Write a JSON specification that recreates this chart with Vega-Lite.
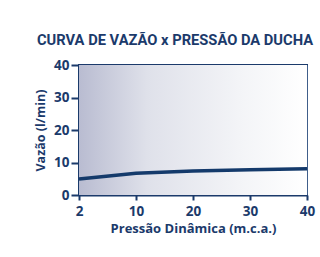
{
  "$schema": "https://vega.github.io/schema/vega-lite/v6.json",
  "width": 228,
  "height": 130,
  "autosize": "none",
  "padding": {"left": 79, "top": 65, "right": 13, "bottom": 62},
  "background": "white",
  "title": {
    "text": "CURVA DE VAZÃO x PRESSÃO DA DUCHA",
    "anchor": "start",
    "frame": "group",
    "dx": -42,
    "offset": 10,
    "font": "Roboto",
    "fontSize": 14.7,
    "fontWeight": "bold",
    "color": "#1b3a6b"
  },
  "config": {
    "view": {"stroke": "#1b3a6b", "strokeWidth": 2},
    "axis": {
      "labelFont": "Open Sans",
      "labelFontWeight": "bold",
      "labelFontSize": 13.5,
      "labelColor": "#1b3a6b",
      "titleFont": "Open Sans",
      "titleFontWeight": "bold",
      "titleFontSize": 13,
      "titleColor": "#1b3a6b",
      "domainColor": "#1b3a6b",
      "domainWidth": 2,
      "tickColor": "#1b3a6b",
      "tickWidth": 2,
      "gridColor": "#3f5e8a",
      "gridWidth": 1,
      "gridOpacity": 1
    }
  },
  "layer": [
    {
      "data": {"values": [{"bg": 1}]},
      "mark": {
        "type": "rect",
        "color": {
          "gradient": "linear",
          "x1": 0, "y1": 0, "x2": 1, "y2": 0,
          "stops": [
            {"offset": 0, "color": "#b9bcd1"},
            {"offset": 0.3, "color": "#dfe1ea"},
            {"offset": 0.7, "color": "#f3f4f7"},
            {"offset": 1, "color": "#ffffff"}
          ]
        }
      },
      "encoding": {}
    },
    {
      "data": {
        "values": [
          {"pressao": 2, "vazao": 4.9},
          {"pressao": 10, "vazao": 6.7},
          {"pressao": 20, "vazao": 7.4},
          {"pressao": 30, "vazao": 7.8},
          {"pressao": 40, "vazao": 8.1}
        ]
      },
      "mark": {"type": "line", "color": "#143a6b", "strokeWidth": 3.5},
      "encoding": {
        "x": {
          "field": "pressao",
          "type": "ordinal",
          "scale": {"type": "point", "padding": 0},
          "axis": {
            "title": "Pressão Dinâmica (m.c.a.)",
            "labelAngle": 0,
            "grid": true,
            "tickSize": 5,
            "labelPadding": 4,
            "titlePadding": 5
          }
        },
        "y": {
          "field": "vazao",
          "type": "quantitative",
          "scale": {"domain": [0, 40], "nice": false},
          "axis": {
            "title": "Vazão (l/min)",
            "values": [0, 10, 20, 30, 40],
            "tickSize": 8,
            "labelPadding": 2,
            "titlePadding": 6,
            "titleFontSize": 12.5
          }
        }
      }
    }
  ]
}
